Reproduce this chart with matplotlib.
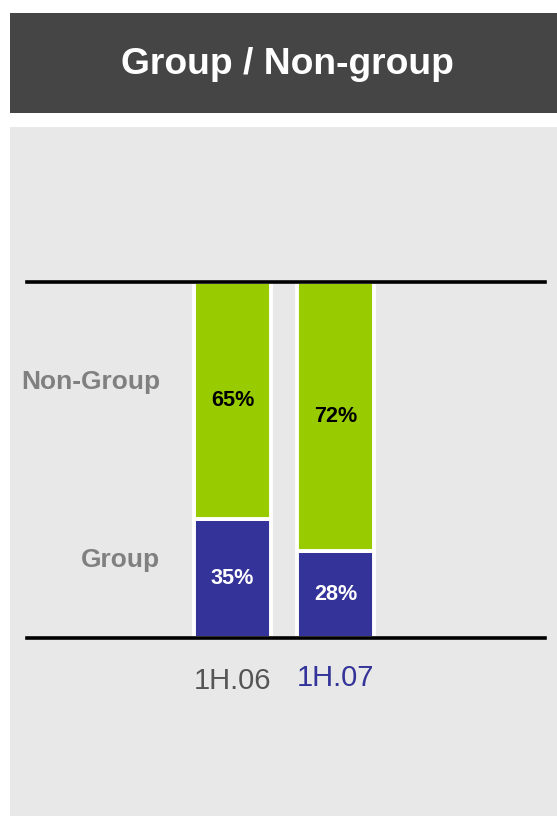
import matplotlib
matplotlib.use("Agg")
import matplotlib.pyplot as plt
from matplotlib.patches import Rectangle
import matplotlib.transforms as mtransforms

plt.rcParams['font.family'] = ['Liberation Sans', 'DejaVu Sans']

# ---- data ----
periods = ["1H.06", "1H.07"]
group_share = [33.4, 24.4]          # drawn segment heights (as in picture)
nongroup_share = [66.6, 75.6]
group_labels = ["35%", "28%"]
nongroup_labels = ["65%", "72%"]
series_names = ["Group", "Non-Group"]
title = "Group / Non-group"
tick_colors = ["#555555", "#333399"]

GREEN = "#99CC00"
BLUE = "#333399"

W, H = 557, 816
fig = plt.figure(figsize=(W / 100, H / 100), dpi=100)
fig.patch.set_facecolor("white")

# title box and panel
fig.patches.append(Rectangle((10 / W, (816 - 113) / H), 1 - 10 / W, 100 / H,
                             transform=fig.transFigure, facecolor="#454545",
                             edgecolor="none", zorder=-10))
fig.patches.append(Rectangle((10 / W, 0), 1 - 10 / W, (816 - 127) / H,
                             transform=fig.transFigure, facecolor="#E8E8E8",
                             edgecolor="none", zorder=-10))
fig.text(287 / W, (816 - 64) / H, title, color="white", fontsize=26.8,
         fontweight="bold", ha="center", va="center")

ax = fig.add_axes([27 / W, (816 - 638) / H, (545 - 27) / W, (638 - 282) / H])
ax.set_facecolor("none")
ax.set_zorder(1)

x = list(range(len(periods)))
width = 0.748
ax.bar(x, group_share, width=width, color=BLUE, edgecolor="white", linewidth=2.8)
ax.bar(x, nongroup_share, width=width, bottom=group_share, color=GREEN,
       edgecolor="white", linewidth=2.8)

for i in x:
    ax.text(i, group_share[i] / 2, group_labels[i], ha="center", va="center",
            color="white", fontsize=15.6, fontweight="bold")
    ax.text(i, group_share[i] + nongroup_share[i] / 2, nongroup_labels[i],
            ha="center", va="center", color="black", fontsize=15.6, fontweight="bold")

ax.set_xlim(-1.995, 3.034)
ax.set_ylim(0, 100)

# series labels on the left
ax.text(-0.70, 71.9, series_names[1], ha="right", va="center", color="#808080",
        fontsize=19, fontweight="bold")
ax.text(-0.70, 21.9, series_names[0], ha="right", va="center", color="#808080",
        fontsize=19, fontweight="bold")

for s in ["left", "right"]:
    ax.spines[s].set_visible(False)
for s in ["top", "bottom"]:
    ax.spines[s].set_linewidth(2.6)
    ax.spines[s].set_color("black")
    ax.spines[s].set_zorder(5)

ax.set_yticks([])
ax.set_xticks(x)
ax.set_xticklabels(periods, fontsize=21)
ax.tick_params(axis="x", length=0, pad=21)
for lbl, c in zip(ax.get_xticklabels(), tick_colors):
    lbl.set_color(c)
# second label sits slightly higher in the reference
off = mtransforms.ScaledTranslation(0, 3 / 100, fig.dpi_scale_trans)
lbl2 = ax.get_xticklabels()[1]
lbl2.set_transform(lbl2.get_transform() + off)

fig.savefig("out.png", dpi=100, facecolor="white")
